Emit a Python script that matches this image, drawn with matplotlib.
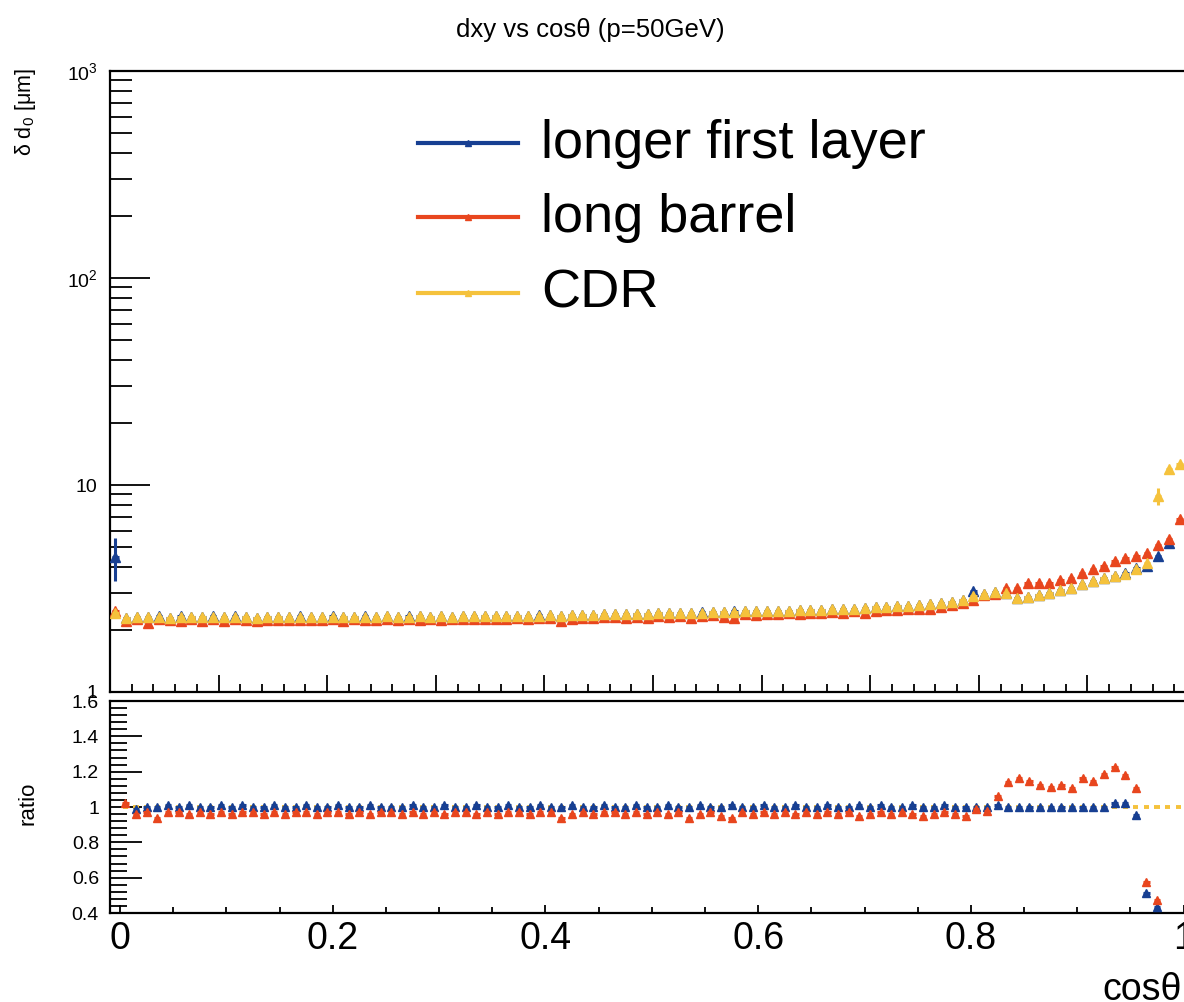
import numpy as np
import matplotlib
matplotlib.use("Agg")
import matplotlib.pyplot as plt
from matplotlib.ticker import MultipleLocator, FixedLocator, FixedFormatter, LogLocator, NullFormatter
from matplotlib.lines import Line2D

plt.rcParams['font.family'] = ['Liberation Sans', 'DejaVu Sans']
plt.rcParams['mathtext.fontset'] = 'custom'
plt.rcParams['mathtext.rm'] = 'Liberation Sans'
plt.rcParams['mathtext.it'] = 'Liberation Sans:italic'

# ---------------- data: 100 bins in cos(theta) ----------------
bin_edges = np.linspace(0.0, 1.0, 101)
cos_theta = 0.5 * (bin_edges[:-1] + bin_edges[1:])

cdr = [
    2.40, 2.29, 2.31, 2.30, 2.31, 2.29, 2.30, 2.31, 2.30, 2.31,
    2.30, 2.31, 2.30, 2.29, 2.30, 2.31, 2.30, 2.30, 2.31, 2.30,
    2.31, 2.30, 2.31, 2.31, 2.30, 2.32, 2.31, 2.31, 2.32, 2.31,
    2.32, 2.31, 2.32, 2.33, 2.32, 2.33, 2.33, 2.34, 2.33, 2.34,
    2.35, 2.34, 2.35, 2.36, 2.36, 2.37, 2.37, 2.38, 2.38, 2.39,
    2.40, 2.40, 2.41, 2.41, 2.42, 2.43, 2.43, 2.44, 2.45, 2.45,
    2.46, 2.47, 2.47, 2.48, 2.49, 2.50, 2.51, 2.52, 2.53, 2.54,
    2.56, 2.57, 2.59, 2.61, 2.63, 2.65, 2.68, 2.72, 2.79, 2.92,
    2.97, 3.03, 3.00, 2.84, 2.89, 2.95, 3.02, 3.12, 3.17, 3.31,
    3.42, 3.54, 3.62, 3.70, 3.91, 4.18, 8.84, 11.96, 12.65, 13.0,
]

long_barrel = [
    2.45, 2.20, 2.24, 2.16, 2.24, 2.22, 2.21, 2.24, 2.21, 2.24,
    2.21, 2.24, 2.23, 2.20, 2.23, 2.22, 2.23, 2.23, 2.22, 2.23,
    2.24, 2.21, 2.24, 2.22, 2.23, 2.25, 2.22, 2.24, 2.23, 2.24,
    2.23, 2.24, 2.25, 2.24, 2.25, 2.24, 2.26, 2.27, 2.24, 2.27,
    2.28, 2.20, 2.26, 2.29, 2.27, 2.30, 2.30, 2.28, 2.31, 2.29,
    2.33, 2.30, 2.34, 2.27, 2.32, 2.36, 2.31, 2.29, 2.38, 2.35,
    2.39, 2.37, 2.40, 2.38, 2.42, 2.40, 2.43, 2.42, 2.45, 2.41,
    2.46, 2.49, 2.49, 2.53, 2.52, 2.52, 2.57, 2.64, 2.68, 2.77,
    2.94, 2.97, 3.17, 3.17, 3.38, 3.38, 3.36, 3.48, 3.55, 3.74,
    3.95, 4.04, 4.28, 4.42, 4.52, 4.68, 5.11, 5.47, 6.84, 7.30,
]

longer_first_layer = [
    4.50, 2.28, 2.31, 2.30, 2.33, 2.29, 2.32, 2.31, 2.30, 2.33,
    2.30, 2.32, 2.30, 2.29, 2.31, 2.31, 2.30, 2.32, 2.31, 2.30,
    2.32, 2.30, 2.31, 2.32, 2.30, 2.32, 2.31, 2.32, 2.32, 2.31,
    2.33, 2.31, 2.32, 2.34, 2.32, 2.33, 2.34, 2.34, 2.33, 2.35,
    2.35, 2.34, 2.36, 2.36, 2.36, 2.38, 2.37, 2.38, 2.39, 2.39,
    2.40, 2.41, 2.41, 2.41, 2.43, 2.43, 2.43, 2.45, 2.45, 2.45,
    2.47, 2.47, 2.47, 2.49, 2.49, 2.50, 2.52, 2.52, 2.53, 2.55,
    2.56, 2.58, 2.59, 2.61, 2.64, 2.65, 2.68, 2.73, 2.79, 3.06,
    2.97, 3.03, 3.00, 2.84, 2.89, 2.95, 3.02, 3.12, 3.17, 3.31,
    3.42, 3.54, 3.63, 3.77, 3.99, 4.04, 4.52, 5.23, np.nan, np.nan,
]

# statistical errors (only the visible ones differ from ~0)
cdr_err = np.full(100, 0.02)
cdr_err[96] = 0.80
cdr_err[97] = 0.25
cdr_err[98] = 0.25
barrel_err = np.full(100, 0.02)
first_layer_err = np.full(100, 0.02)
first_layer_err[0] = 1.05

# ratio to CDR
ratio_long_barrel = [
    1.02, 0.96, 0.97, 0.94, 0.97, 0.97, 0.96, 0.97, 0.96, 0.97,
    0.96, 0.97, 0.97, 0.96, 0.97, 0.96, 0.97, 0.97, 0.96, 0.97,
    0.97, 0.96, 0.97, 0.96, 0.97, 0.97, 0.96, 0.97, 0.96, 0.97,
    0.96, 0.97, 0.97, 0.96, 0.97, 0.96, 0.97, 0.97, 0.96, 0.97,
    0.97, 0.94, 0.96, 0.97, 0.96, 0.97, 0.97, 0.96, 0.97, 0.96,
    0.97, 0.96, 0.97, 0.94, 0.96, 0.97, 0.95, 0.94, 0.97, 0.96,
    0.97, 0.96, 0.97, 0.96, 0.97, 0.96, 0.97, 0.96, 0.97, 0.95,
    0.96, 0.97, 0.96, 0.97, 0.96, 0.95, 0.96, 0.97, 0.96, 0.95,
    0.99, 0.98, 1.06, 1.14, 1.165, 1.15, 1.125, 1.115, 1.127, 1.106,
    1.165, 1.15, 1.187, 1.224, 1.18, 1.106, 0.576, 0.473, np.nan, np.nan,
]

ratio_first_layer = [
    1.88, 0.99, 1.00, 1.00, 1.01, 1.00, 1.01, 1.00, 1.00, 1.01,
    1.00, 1.01, 1.00, 1.00, 1.01, 1.00, 1.00, 1.01, 1.00, 1.00,
    1.01, 1.00, 1.00, 1.01, 1.00, 1.00, 1.00, 1.01, 1.00, 1.00,
    1.01, 1.00, 1.00, 1.01, 1.00, 1.00, 1.01, 1.00, 1.00, 1.01,
    1.00, 1.00, 1.01, 1.00, 1.00, 1.01, 1.00, 1.00, 1.01, 1.00,
    1.00, 1.01, 1.00, 1.00, 1.01, 1.00, 1.00, 1.01, 1.00, 1.00,
    1.01, 1.00, 1.00, 1.01, 1.00, 1.00, 1.01, 1.00, 1.00, 1.01,
    1.00, 1.01, 1.00, 1.00, 1.01, 1.00, 1.00, 1.01, 1.00, 1.00,
    1.00, 1.00, 1.01, 1.00, 1.00, 1.00, 1.00, 1.00, 1.00, 1.00,
    1.00, 1.00, 1.00, 1.02, 1.02, 0.952, 0.514, 0.435, np.nan, np.nan,
]

series_names = ["longer first layer", "long barrel", "CDR"]
BLUE, RED, YELLOW = "#173f92", "#e8461e", "#f5c23c"

log_ticks = [1, 10, 100, 1000]
log_labels = ["1", "10", "$10^{2}$", "$10^{3}$"]
ratio_ticks = [0.4, 0.6, 0.8, 1.0, 1.2, 1.4, 1.6]
ratio_labels = ["0.4", "0.6", "0.8", "1", "1.2", "1.4", "1.6"]
x_ticks = [0.0, 0.2, 0.4, 0.6, 0.8, 1.0]
x_labels = ["0", "0.2", "0.4", "0.6", "0.8", "1"]

# ---------------- figure ----------------
W, H = 1184, 1002
fig = plt.figure(figsize=(W / 100, H / 100), dpi=100)
ax = fig.add_axes([110 / W, (H - 692) / H, 1086 / W, (692 - 71) / H])
axr = fig.add_axes([110 / W, (H - 913) / H, 1079 / W, (913 - 701) / H])

for a in (ax, axr):
    for s in a.spines.values():
        s.set_linewidth(1.6)


def draw(a, y, yerr, color, z, xerr=0.003, ms=6.5):
    a.errorbar(cos_theta, np.asarray(y, float), yerr=yerr, xerr=xerr, fmt='^',
               ms=ms, color=color, mec=color, elinewidth=2.2, capsize=0,
               zorder=z)


# upper panel
draw(ax, longer_first_layer, first_layer_err, BLUE, 3)
draw(ax, long_barrel, barrel_err, RED, 4)
draw(ax, cdr, cdr_err, YELLOW, 5)

ax.set_yscale('log')
ax.set_ylim(1, 1000)
ax.set_xlim(0, 1)
ax.xaxis.set_major_locator(MultipleLocator(0.1))
ax.xaxis.set_minor_locator(MultipleLocator(0.02))
ax.tick_params(axis='x', which='major', direction='in', length=12, width=1.3,
               labelbottom=False, top=False)
ax.tick_params(axis='x', which='minor', direction='in', length=6, width=1.3,
               top=False)
ax.yaxis.set_major_locator(FixedLocator(log_ticks))
ax.yaxis.set_major_formatter(FixedFormatter(log_labels))
ax.yaxis.set_minor_locator(LogLocator(base=10, subs=np.arange(2, 10)))
ax.yaxis.set_minor_formatter(NullFormatter())
ax.tick_params(axis='y', which='major', direction='in', length=29, width=1.3,
               labelsize=14, pad=9, right=False)
ax.tick_params(axis='y', which='minor', direction='in', length=16, width=1.3,
               right=False)

# lower panel (ratio to CDR)
cdr_arr = np.asarray(cdr, float)
axr.errorbar(cos_theta, cdr_arr / cdr_arr, xerr=0.0025, fmt='none',
             ecolor=YELLOW, elinewidth=2.8, capsize=0, zorder=2)
draw(axr, ratio_first_layer, None, BLUE, 3, xerr=0.003, ms=6)
draw(axr, ratio_long_barrel, None, RED, 4, xerr=0.003, ms=6)

axr.set_xlim(-0.0094, 1.0050)
axr.set_ylim(0.4, 1.6)
axr.xaxis.set_major_locator(FixedLocator(x_ticks))
axr.xaxis.set_major_formatter(FixedFormatter(x_labels))
axr.xaxis.set_minor_locator(MultipleLocator(0.05))
axr.tick_params(axis='x', which='major', direction='in', length=6, width=1.3,
                labelsize=27, pad=6, top=False)
axr.tick_params(axis='x', which='minor', direction='in', length=4, width=1.3,
                top=False)
axr.yaxis.set_major_locator(FixedLocator(ratio_ticks))
axr.yaxis.set_major_formatter(FixedFormatter(ratio_labels))
axr.yaxis.set_minor_locator(MultipleLocator(0.04))
axr.tick_params(axis='y', which='major', direction='in', length=23, width=1.3,
                labelsize=14, pad=8, right=False)
axr.tick_params(axis='y', which='minor', direction='in', length=12, width=1.3,
                right=False)

# texts
fig.text(590 / W, (H - 30) / H, "dxy vs cosθ (p=50GeV)", ha='center',
         va='center', fontsize=18.5)
fig.text(26 / W, (H - 68) / H, "δ d$_{0}$ [μm]", rotation=90, ha='center',
         va='top', fontsize=15.5)
fig.text(28 / W, (H - 803) / H, "ratio", rotation=90, ha='center',
         va='center', fontsize=16)
fig.text(1182 / W, (H - 1000) / H, "cosθ", ha='right', va='baseline',
         fontsize=27)

# legend
legend_rows = [143, 217, 293]
for name, color, yrow in zip(series_names, [BLUE, RED, YELLOW], legend_rows):
    yf = (H - yrow) / H
    fig.add_artist(Line2D([418 / W, 468 / W, 518 / W], [yf, yf, yf],
                          transform=fig.transFigure, color=color, lw=3,
                          marker='^', ms=4, markevery=[1]))
    fig.text(541 / W, (H - yrow - 15) / H, name, ha='left', va='baseline',
             fontsize=39)

fig.savefig("out.png", dpi=100)
